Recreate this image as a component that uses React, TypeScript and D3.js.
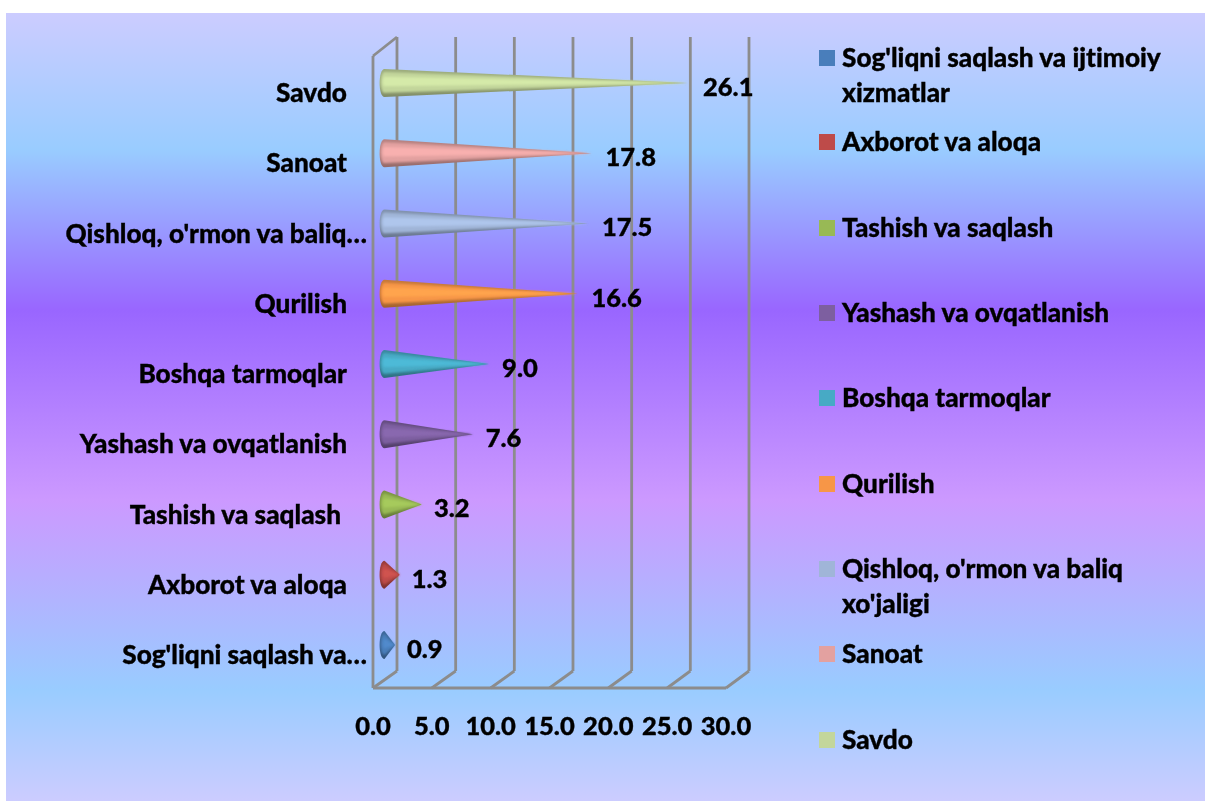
import React from "react";
import * as d3 from "d3";

const categories = ["Sog'liqni saqlash va ijtimoiy xizmatlar", "Axborot va aloqa", "Tashish va saqlash", "Yashash va ovqatlanish", "Boshqa tarmoqlar", "Qurilish", "Qishloq, o'rmon va baliq xo'jaligi", "Sanoat", "Savdo"];
const axisLabels = ["Sog'liqni saqlash va…", "Axborot va aloqa", "Tashish va saqlash", "Yashash va ovqatlanish", "Boshqa tarmoqlar", "Qurilish", "Qishloq, o'rmon va baliq…", "Sanoat", "Savdo"];
const values = [0.9, 1.3, 3.2, 7.6, 9.0, 16.6, 17.5, 17.8, 26.1];
const colors = ["#4A7EBB", "#BE4B48", "#98B954", "#7D5FA0", "#46AAC5", "#F79646", "#A0B5D8", "#E3A1A0", "#C3D69B"];
const ticks = [0, 5, 10, 15, 20, 25, 30];
const legendLines = [["Sog'liqni saqlash va ijtimoiy", "xizmatlar"], ["Axborot va aloqa"], ["Tashish va saqlash"], ["Yashash va ovqatlanish"], ["Boshqa tarmoqlar"], ["Qurilish"], ["Qishloq, o'rmon va baliq", "xo'jaligi"], ["Sanoat"], ["Savdo"]];
const legendSlots = [58, 142, 228, 313, 398, 484, 569, 654, 740];

const FONT = "Lato, 'Open Sans', sans-serif";
const NUM_SIZE = 25.5;
const WORD_SIZE = 26.2;
const frontX = d3.scaleLinear().domain([0, 30]).range([373, 726]);
const backX = d3.scaleLinear().domain([0, 30]).range([397, 749]);
const coneX = d3.scaleLinear().domain([0, 30]).range([384.5, 733.4]);
const labelX = d3.scaleLinear().domain([0, 30]).range([396.4, 748.8]);
const coneY = d3.scalePoint<string>().domain([...categories].reverse()).range([83, 645]);

const labelEnd = (s: string) => (s.endsWith("…") ? 367 : s.startsWith("Tashish") ? 341 : 347);

function conePath(v: number, y: number, frac: number, shift: number) {
  const cx = coneX(0);
  const tip = coneX(v);
  const h = 14 * frac;
  const bulge = 6.5 * frac;
  const p = d3.path();
  p.moveTo(tip, y);
  p.lineTo(cx, y - h + shift);
  p.bezierCurveTo(cx - bulge, y - h + shift, cx - bulge, y + h + shift, cx, y + h + shift);
  p.closePath();
  return p.toString();
}

export default function App() {
  const gridColor = "#8C8C8C";
  return (
    <svg width={1205} height={801} style={{ position: "absolute", left: 0, top: 0, display: "block" }}>
      <defs>
        <linearGradient id="bg" x1="0" y1="0" x2="0" y2="1">
          <stop offset="0" stopColor="#CCCCFF" />
          <stop offset="0.174" stopColor="#99CCFF" />
          <stop offset="0.377" stopColor="#9966FF" />
          <stop offset="0.618" stopColor="#CC99FF" />
          <stop offset="0.859" stopColor="#99CCFF" />
          <stop offset="1" stopColor="#CCCCFF" />
        </linearGradient>
        <filter id="soft" x="-5%" y="-5%" width="110%" height="110%">
          <feGaussianBlur stdDeviation="0.45" />
        </filter>
        <filter id="coneSoft" x="-10%" y="-30%" width="120%" height="160%">
          <feGaussianBlur stdDeviation="1.3" />
        </filter>
        {colors.map((c, i) => {
          const col = d3.color(c)!;
          return (
            <linearGradient key={i} id={`cone${i}`} x1="0" y1="0" x2="0" y2="1">
              <stop offset="0" stopColor={col.darker(0.6).formatHex()} />
              <stop offset="0.5" stopColor={col.darker(0.6).formatHex()} />
              <stop offset="1" stopColor={col.darker(1.2).formatHex()} />
            </linearGradient>
          );
        })}
      </defs>
      <rect x={6} y={13} width={1199} height={788} fill="url(#bg)" />

      <g filter="url(#soft)">
        <g stroke={gridColor} strokeWidth={2.8} fill="none">
          {ticks.map((t) => (
            <g key={t}>
              <line x1={backX(t)} x2={backX(t)} y1={37} y2={671} />
              <line x1={frontX(t)} x2={backX(t)} y1={688} y2={671} />
            </g>
          ))}
          <line x1={frontX(0)} x2={frontX(30)} y1={688} y2={688} />
          <line x1={frontX(0)} x2={frontX(0)} y1={56} y2={688} />
          <line x1={frontX(0)} x2={backX(0)} y1={56} y2={37} />
        </g>

        {categories.map((c, i) => {
          const y = coneY(c)!;
          const col = d3.color(colors[i])!;
          return (
            <g key={c}>
              <path d={conePath(values[i], y, 1, 0)} fill={`url(#cone${i})`} />
              <path d={conePath(values[i], y, 0.74, -0.6)} fill={col.formatHex()} filter="url(#coneSoft)" />
              <path d={conePath(values[i], y, 0.34, -1.5)} fill={col.brighter(0.25).formatHex()} filter="url(#coneSoft)" />
            </g>
          );
        })}

        <g fontFamily={FONT} fontWeight={900} fill="#000" stroke="#000" strokeWidth={0.35} style={{ fontVariantLigatures: "none" }}>
          {categories.map((c, i) => (
            <text key={c} x={labelEnd(axisLabels[i])} y={coneY(c)! + 10} dy="0.35em" textAnchor="end" fontSize={WORD_SIZE}>
              {axisLabels[i]}
            </text>
          ))}
          {categories.map((c, i) => (
            <text key={c} x={labelX(values[i])} y={coneY(c)! + 4} dy="0.35em" fontSize={NUM_SIZE}>
              {values[i].toFixed(1)}
            </text>
          ))}
          {ticks.map((t) => (
            <text key={t} x={frontX(t)} y={726} dy="0.35em" textAnchor="middle" fontSize={NUM_SIZE}>
              {t.toFixed(1)}
            </text>
          ))}
          {categories.map((c, i) => (
            <g key={c}>
              <rect x={819} y={legendSlots[i] - 8} width={16} height={16} fill={colors[i]} stroke="none" />
              {legendLines[i].map((l, j) => (
                <text key={l} x={842} y={legendSlots[i] + j * 35} dy="0.35em" fontSize={WORD_SIZE}>
                  {l}
                </text>
              ))}
            </g>
          ))}
        </g>
      </g>
    </svg>
  );
}
